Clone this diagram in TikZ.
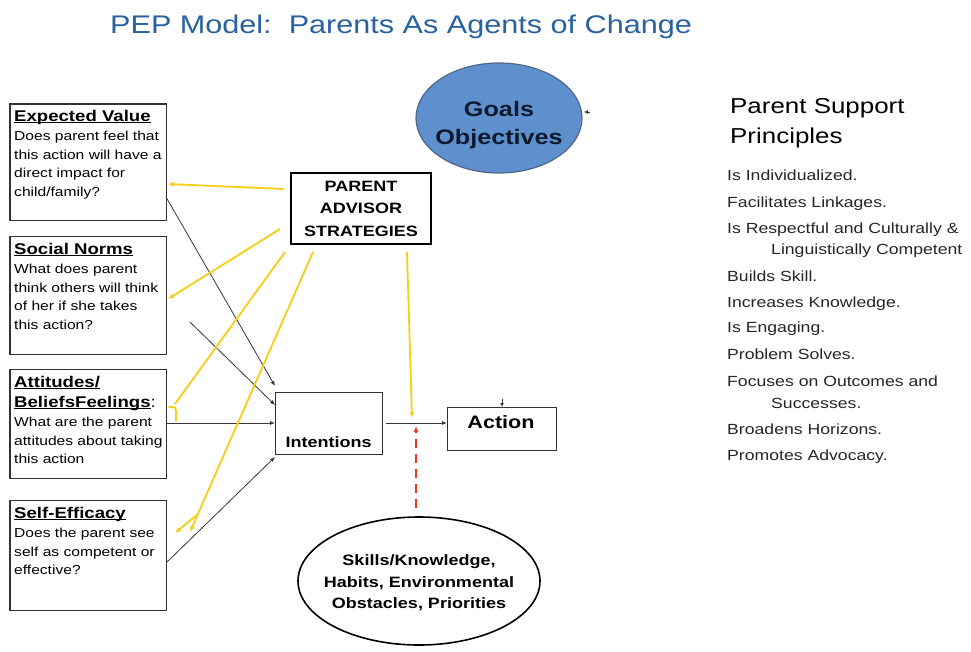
\documentclass[tikz,border=0pt]{standalone}
\usepackage{fontspec}
\setmainfont{Liberation Sans}[FakeStretch=1.2]
\usetikzlibrary{arrows.meta,calc,shapes.geometric}
\definecolor{titleblue}{RGB}{40,98,160}
\definecolor{goalfill}{RGB}{94,144,205}
\definecolor{goaledge}{RGB}{80,102,135}
\definecolor{goaltext}{RGB}{15,25,45}
\definecolor{ylw}{RGB}{246,206,20}
\definecolor{redd}{RGB}{235,55,30}
\definecolor{gline}{RGB}{55,55,55}
\newsavebox\ulbox
\newcommand\myul[1]{\sbox\ulbox{#1}\rlap{\rule[-1.7pt]{\wd\ulbox}{0.9pt}}\usebox\ulbox}
\begin{document}
\begin{tikzpicture}[x=1pt,y=-1pt,
  box/.style={draw=black!80, line width=1.2pt, fill=white, inner sep=0, anchor=north west},
  btxt/.style={anchor=north west, inner sep=0, align=left, font=\fontsize{13}{18.4}\selectfont},
  blk/.style={draw=gline, line width=0.8pt, -{Latex[length=5pt,width=4pt]}},
  yl/.style={draw=ylw, line width=1.8pt},
  ylarr/.style={yl, -{Latex[length=6pt,width=5pt]}},
  redarr/.style={draw=redd, line width=2pt, dash pattern=on 9pt off 6pt, -{Latex[length=6pt,width=5pt]}},
  item/.style={anchor=base west, inner sep=0, font=\fontsize{14.7}{18}\selectfont, text=black!85},
  bold/.style={inner sep=0, font=\fontsize{15}{22.3}\selectfont\bfseries}
]
\fill[white] (0,0) rectangle (971,651);
\useasboundingbox (0,0) rectangle (971,651);

% title
\node[anchor=base west, inner sep=0, text=titleblue, font=\fontsize{25.5}{30}\selectfont] (title) at (110,33) {PEP Model:\ \ Parents As Agents of Change};

% left boxes
\node[box, minimum width=156.4pt, minimum height=116.7pt] (ev) at (9.3,103.3) {};
\node[box, minimum width=156.4pt, minimum height=118.3pt] (sn) at (9.3,235.7) {};
\node[box, minimum width=156.4pt, minimum height=109pt] (at) at (9.3,369) {};
\node[box, minimum width=156.4pt, minimum height=110pt] (se) at (9.3,500) {};

\newcommand\hd[1]{{\fontsize{15.5}{18}\selectfont\bfseries\myul{#1}}}
\node[btxt] (evt) at (14,110) {\hd{Expected Value}\\[1pt]Does parent feel that\\this action will have a\\direct impact for\\child/family?};
\node[btxt] (snt) at (14,243) {\hd{Social Norms}\\[1pt]What does parent\\think others will think\\of her if she takes\\this action?};
\node[btxt] (att) at (14,376) {\hd{Attitudes/}\\[1.6pt]\hd{BeliefsFeelings}{\fontsize{15.5}{18}\selectfont:}\\[1pt]What are the parent\\attitudes about taking\\this action};
\node[btxt] (set) at (14,507) {\hd{Self-Efficacy}\\[1pt]Does the parent see\\self as competent or\\effective?};

% parent advisor strategies
\node[draw=black, line width=2pt, fill=white, minimum width=140pt, minimum height=71pt, align=center, inner sep=0, font=\fontsize{15}{22.3}\selectfont\bfseries] (pas) at (361,208.7) {PARENT\\ADVISOR\\STRATEGIES};

% goals ellipse
\node[ellipse, draw=goaledge, line width=1.2pt, fill=goalfill, minimum width=166pt, minimum height=110pt, inner sep=0] (goal) at (499,118) {};
\node[inner sep=0, align=center, text=goaltext, font=\fontsize{21}{28}\selectfont\bfseries] (goalt) at (499,125) {Goals\\Objectives};

% intentions & action
\node[box, minimum width=107pt, minimum height=62pt] (int) at (275,392) {};
\node[bold, anchor=base] (intt) at (328.5,447) {Intentions};
\node[box, minimum width=109pt, minimum height=43pt] (act) at (447,407) {};
\node[inner sep=0, anchor=base, font=\fontsize{18}{22}\selectfont\bfseries] (actt) at (501,428.5) {Action};

% skills ellipse
\node[ellipse, draw=black, line width=1.6pt, fill=white, minimum width=242pt, minimum height=128pt, inner sep=0] (sk) at (419,581) {};
\node[inner sep=0, align=center, font=\fontsize{15}{21.5}\selectfont\bfseries] (skt) at (419,583) {Skills/Knowledge,\\Habits, Environmental\\Obstacles, Priorities};

% right side
\node[anchor=base west, inner sep=0, font=\fontsize{21.6}{30}\selectfont] (ps1) at (730,113) {Parent Support};
\node[anchor=base west, inner sep=0, font=\fontsize{21.6}{30}\selectfont] (ps2) at (730,143) {Principles};
\node[item] (i1) at (727,180) {Is Individualized.};
\node[item] (i2) at (727,207) {Facilitates Linkages.};
\node[item] (i3) at (727,233) {Is Respectful and Culturally \&};
\node[item] (i3b) at (771,254) {Linguistically Competent};
\node[item] (i4) at (727,281) {Builds Skill.};
\node[item] (i5) at (727,307) {Increases Knowledge.};
\node[item] (i6) at (727,332) {Is Engaging.};
\node[item] (i7) at (727,359) {Problem Solves.};
\node[item] (i8) at (727,386) {Focuses on Outcomes and};
\node[item] (i8b) at (771,408) {Successes.};
\node[item] (i9) at (727,434) {Broadens Horizons.};
\node[item] (i10) at (727,460) {Promotes Advocacy.};

% connector coordinates
\coordinate (ev-o) at (166,197);
\coordinate (in-1) at (275,386);
\coordinate (sn-o) at (190,322);
\coordinate (in-2) at (275,405);
\coordinate (at-o) at (166,423);
\coordinate (in-3) at (275,423);
\coordinate (se-o) at (167,562);
\coordinate (in-4) at (275,457);
\coordinate (in-o) at (386,423);
\coordinate (ac-i) at (447,423);

\draw[blk] (ev-o) -- (in-1);
\draw[blk] (sn-o) -- (in-2);
\draw[blk] (at-o) -- (in-3);
\draw[blk] (se-o) -- (in-4);
\draw[blk] (in-o) -- (ac-i);

% yellow connectors
\coordinate (pa-1) at (284,189); \coordinate (ev-y) at (168,184);
\coordinate (pa-2) at (280,229); \coordinate (sn-y) at (168,299);
\coordinate (pa-3) at (285,252); \coordinate (at-y) at (175,404);
\coordinate (pa-4) at (313,252); \coordinate (se-y) at (190,532);
\coordinate (se-f1) at (198,514); \coordinate (se-f2) at (175,533);
\coordinate (pa-5) at (407,252); \coordinate (jn) at (412,418);

\draw[ylarr] (pa-1) -- (ev-y);
\draw[ylarr] (pa-2) -- (sn-y);
\draw[yl] (pa-3) -- (at-y);
\draw[yl, line cap=round] (169,407) .. controls (176,407) .. (176,414) -- (176,421);
\draw[ylarr] (pa-4) -- (se-y);
\draw[ylarr] (se-f1) -- (se-f2);
\draw[ylarr] (pa-5) -- (jn);

% red dashed
\coordinate (rd-s) at (416,508); \coordinate (rd-e) at (416,426);
\draw[redarr] (rd-s) -- (rd-e);

% small marks
\coordinate (tk-a) at (502,399); \coordinate (tk-b) at (502,407);
\draw[draw=gline, line width=0.8pt, -{Latex[length=4pt,width=4pt]}] (tk-a) -- (tk-b);
\coordinate (gk-a) at (590,112); \coordinate (gk-b) at (584,112);
\draw[draw=gline, line width=0.6pt, -{Latex[length=4pt,width=4pt]}] (gk-a) -- (gk-b);
\end{tikzpicture}
\end{document}
